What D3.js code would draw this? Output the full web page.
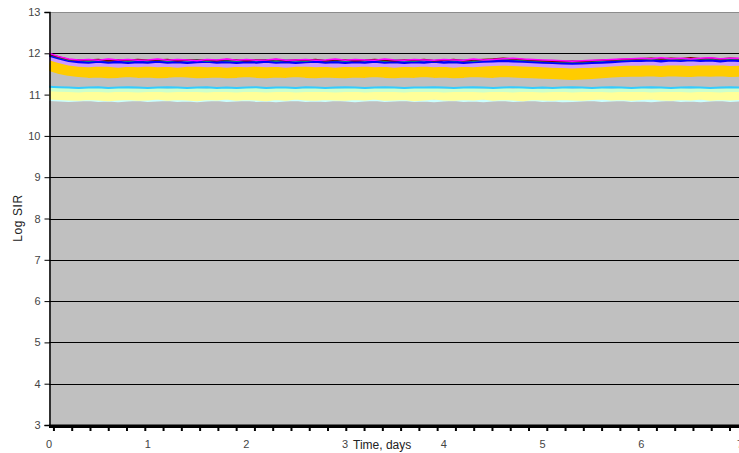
<!DOCTYPE html>
<html>
<head>
<meta charset="utf-8">
<script src="https://cdn.jsdelivr.net/npm/d3@7"></script>
<style>
  html, body { margin: 0; padding: 0; background: #fff; }
  svg { display: block; font-family: "Liberation Sans", Arial, sans-serif; }
</style>
</head>
<body>
<svg id="chart" width="739" height="453"></svg>
<script>
// time points, days
var times = [0,0.1,0.2,0.3,0.4,0.5,0.6,0.7,0.8,0.9,
  1.0,1.1,1.2,1.3,1.4,1.5,1.6,1.7,1.8,1.9,
  2.0,2.1,2.2,2.3,2.4,2.5,2.6,2.7,2.8,2.9,
  3.0,3.1,3.2,3.3,3.4,3.5,3.6,3.7,3.8,3.9,
  4.0,4.1,4.2,4.3,4.4,4.5,4.6,4.7,4.8,4.9,
  5.0,5.1,5.2,5.3,5.4,5.5,5.6,5.7,5.8,5.9,
  6.0,6.1,6.2,6.3,6.4,6.5,6.6,6.7,6.8,6.9,7.0];

var xTickLabels = [0,1,2,3,4,5,6,7];
var yTickLabels = [3,4,5,6,7,8,9,10,11,12,13];

// log SIR per series
var paleCyanSeries = [10.88,10.87,10.86,10.87,10.88,10.86,10.87,10.85,10.87,10.88,
  10.86,10.87,10.88,10.86,10.87,10.85,10.87,10.88,10.86,10.87,
  10.88,10.86,10.87,10.85,10.87,10.88,10.86,10.87,10.86,10.88,
  10.87,10.85,10.87,10.88,10.86,10.87,10.88,10.86,10.87,10.85,
  10.87,10.88,10.86,10.87,10.85,10.87,10.88,10.86,10.87,10.88,
  10.86,10.87,10.85,10.86,10.87,10.88,10.86,10.87,10.88,10.86,
  10.87,10.85,10.87,10.88,10.86,10.87,10.85,10.87,10.88,10.86,10.87];

var yellowSeries = [11.00,10.99,10.98,10.97,10.99,10.98,10.96,10.98,10.99,10.97,
  10.98,11.00,10.97,10.99,10.98,10.96,10.99,10.98,11.00,10.97,
  10.99,10.98,10.96,10.99,10.97,11.00,10.98,10.97,10.99,10.98,
  10.97,10.99,10.98,11.00,10.97,10.98,10.99,10.96,10.98,11.00,
  10.98,10.97,10.99,10.98,11.00,10.97,10.99,10.98,10.96,10.99,
  10.98,10.97,10.99,10.98,10.97,10.99,11.00,10.98,10.99,10.97,
  10.99,11.00,10.98,10.97,10.99,10.98,11.00,10.97,10.99,10.98,10.99];

var lightGreenSeries = [11.13,11.12,11.11,11.10,11.12,11.11,11.10,11.12,11.11,11.10,
  11.11,11.12,11.10,11.11,11.12,11.11,11.10,11.12,11.11,11.10,
  11.12,11.11,11.10,11.11,11.12,11.10,11.11,11.12,11.11,11.10,
  11.11,11.12,11.10,11.11,11.12,11.11,11.10,11.12,11.11,11.12,
  11.10,11.11,11.12,11.11,11.10,11.12,11.11,11.10,11.12,11.11,
  11.10,11.11,11.12,11.10,11.11,11.12,11.11,11.10,11.12,11.11,
  11.12,11.10,11.11,11.12,11.11,11.10,11.12,11.11,11.10,11.12,11.11];

var cyanSeries = [11.19,11.18,11.17,11.16,11.17,11.18,11.16,11.17,11.18,11.17,
  11.16,11.17,11.18,11.17,11.16,11.17,11.18,11.16,11.17,11.16,
  11.17,11.18,11.16,11.17,11.17,11.16,11.18,11.17,11.16,11.17,
  11.18,11.17,11.16,11.17,11.18,11.17,11.16,11.17,11.17,11.18,
  11.17,11.16,11.17,11.18,11.17,11.16,11.17,11.18,11.17,11.16,
  11.17,11.16,11.17,11.18,11.17,11.16,11.17,11.18,11.17,11.16,
  11.17,11.18,11.17,11.16,11.17,11.18,11.17,11.16,11.17,11.18,11.17];

var orangeSeries = [11.72,11.65,11.60,11.57,11.55,11.56,11.54,11.55,11.57,11.55,
  11.56,11.54,11.55,11.57,11.56,11.54,11.55,11.56,11.54,11.55,
  11.57,11.55,11.54,11.56,11.55,11.57,11.55,11.54,11.56,11.55,
  11.54,11.56,11.55,11.57,11.55,11.54,11.56,11.55,11.57,11.55,
  11.56,11.54,11.55,11.57,11.56,11.55,11.57,11.56,11.55,11.54,
  11.53,11.52,11.51,11.50,11.51,11.52,11.54,11.56,11.57,11.58,
  11.58,11.59,11.57,11.59,11.58,11.57,11.59,11.58,11.59,11.57,11.58];

var lavenderSeries = [11.88,11.81,11.75,11.72,11.71,11.73,11.72,11.70,11.72,11.71,
  11.73,11.71,11.72,11.70,11.72,11.73,11.71,11.72,11.70,11.72,
  11.71,11.73,11.71,11.72,11.70,11.72,11.73,11.71,11.72,11.70,
  11.72,11.71,11.73,11.71,11.72,11.70,11.72,11.71,11.73,11.71,
  11.72,11.70,11.72,11.71,11.73,11.74,11.75,11.74,11.73,11.72,
  11.71,11.70,11.69,11.68,11.69,11.70,11.71,11.73,11.74,11.75,
  11.75,11.76,11.74,11.76,11.75,11.74,11.76,11.75,11.76,11.74,11.75];

var blueSeries = [11.95,11.88,11.82,11.79,11.78,11.80,11.78,11.79,11.77,11.79,
  11.78,11.80,11.78,11.79,11.77,11.79,11.80,11.78,11.79,11.77,
  11.79,11.78,11.80,11.78,11.79,11.77,11.79,11.80,11.78,11.79,
  11.77,11.79,11.78,11.80,11.78,11.79,11.77,11.79,11.78,11.80,
  11.78,11.79,11.77,11.79,11.80,11.81,11.82,11.81,11.80,11.79,
  11.78,11.77,11.76,11.75,11.76,11.77,11.78,11.79,11.81,11.82,
  11.82,11.83,11.81,11.83,11.82,11.84,11.82,11.83,11.81,11.83,11.82];

var tealSeries = [11.98,11.90,11.84,11.83,11.81,11.83,11.82,11.84,11.81,11.83,
  11.82,11.84,11.81,11.83,11.82,11.84,11.81,11.83,11.82,11.81,
  11.83,11.82,11.84,11.81,11.83,11.82,11.81,11.84,11.82,11.83,
  11.81,11.83,11.82,11.84,11.81,11.83,11.82,11.81,11.83,11.82,
  11.84,11.82,11.83,11.81,11.83,11.85,11.86,11.85,11.83,11.82,
  11.81,11.80,11.79,11.80,11.79,11.81,11.82,11.83,11.84,11.85,
  11.86,11.85,11.87,11.86,11.85,11.87,11.86,11.87,11.85,11.86,11.87];

var darkRedSeries = [11.98,11.91,11.85,11.83,11.84,11.85,11.82,11.84,11.83,11.85,
  11.83,11.84,11.85,11.82,11.84,11.83,11.84,11.82,11.85,11.84,
  11.82,11.84,11.83,11.85,11.82,11.84,11.83,11.85,11.82,11.84,
  11.84,11.82,11.83,11.85,11.83,11.82,11.84,11.83,11.85,11.82,
  11.83,11.85,11.82,11.84,11.85,11.86,11.88,11.86,11.85,11.83,
  11.82,11.81,11.80,11.81,11.80,11.82,11.83,11.84,11.85,11.86,
  11.87,11.88,11.86,11.88,11.87,11.89,11.87,11.88,11.86,11.88,11.87];

var magentaSeries = [12.00,11.92,11.86,11.84,11.85,11.83,11.86,11.84,11.85,11.83,
  11.84,11.86,11.83,11.85,11.84,11.82,11.85,11.84,11.86,11.83,
  11.85,11.83,11.84,11.86,11.83,11.84,11.85,11.83,11.84,11.86,
  11.83,11.85,11.84,11.83,11.86,11.84,11.83,11.85,11.84,11.83,
  11.85,11.84,11.83,11.86,11.84,11.85,11.87,11.88,11.86,11.85,
  11.84,11.83,11.82,11.81,11.82,11.83,11.84,11.85,11.86,11.87,
  11.88,11.87,11.89,11.87,11.88,11.86,11.88,11.89,11.87,11.88,11.88];

var seriesList = [
  {values: paleCyanSeries, color: '#CCFFFF', width: 3},
  {values: yellowSeries, color: '#FFFF99', width: 10},
  {values: lightGreenSeries, color: '#CCFFCC', width: 4},
  {values: cyanSeries, color: '#33CCFF', width: 2},
  {values: orangeSeries, color: '#FFCC00', width: 12},
  {values: lavenderSeries, color: '#CC99FF', width: 4},
  {values: blueSeries, color: '#0000FF', width: 2.5},
  {values: tealSeries, color: '#008080', width: 1.5},
  {values: darkRedSeries, color: '#800000', width: 1.5},
  {values: magentaSeries, color: '#FF00FF', width: 1.5}
];

(function() {
  var svg = d3.select('#chart')
    , plotLeft = 49, plotTop = 12, plotBottom = 425, plotRight = 740, W = 739;

  var x = d3.scaleLinear().domain([0, 7]).range([plotLeft, plotRight]);
  var y = d3.scaleLinear().domain([3, 13]).range([plotBottom, plotTop]);

  svg.append('clipPath').attr('id', 'plotClip')
    .append('rect').attr('x', plotLeft).attr('y', plotTop)
    .attr('width', W - plotLeft).attr('height', plotBottom - plotTop);

  // plot background
  svg.append('rect')
    .attr('x', plotLeft).attr('y', plotTop)
    .attr('width', W - plotLeft).attr('height', plotBottom - plotTop)
    .attr('fill', '#C0C0C0');

  svg.append('line')
    .attr('x1', plotLeft).attr('x2', W).attr('y1', plotTop + 0.5).attr('y2', plotTop + 0.5)
    .attr('stroke', '#8c8c8c');

  // horizontal gridlines
  svg.append('g').selectAll('line')
    .data(yTickLabels.filter(function(d) { return d > 3 && d < 13; }))
    .enter().append('line')
      .attr('x1', plotLeft).attr('x2', W)
      .attr('y1', function(d) { return Math.round(y(d)) + 0.5; })
      .attr('y2', function(d) { return Math.round(y(d)) + 0.5; })
      .attr('stroke', '#000').attr('stroke-width', 1);

  // series
  var line = d3.line()
    .x(function(d, i) { return x(times[i]); })
    .y(function(d) { return y(d); });

  svg.append('g').attr('clip-path', 'url(#plotClip)')
    .selectAll('path')
    .data(seriesList)
    .enter().append('path')
      .attr('d', function(s) { return line(s.values); })
      .attr('fill', 'none')
      .attr('stroke', function(s) { return s.color; })
      .attr('stroke-width', function(s) { return s.width; })
      .attr('stroke-linejoin', 'round');

  // y axis
  var yAxis = svg.append('g')
    .attr('transform', 'translate(' + (plotLeft + 0.5) + ',0)')
    .call(d3.axisLeft(y).tickValues(yTickLabels).tickSize(5).tickPadding(4).tickFormat(d3.format('d')));
  yAxis.select('.domain').attr('stroke', '#000').attr('stroke-width', 1.5);
  yAxis.selectAll('.tick line').attr('stroke', '#000');
  yAxis.selectAll('.tick text')
    .attr('fill', '#444').style('font-size', '11px')
    .style('font-family', '"Liberation Sans", Arial, sans-serif');

  // bottom axis: heavy baseline with small ticks
  svg.append('rect')
    .attr('x', plotLeft).attr('y', plotBottom - 0.5)
    .attr('width', W - plotLeft).attr('height', 3.5)
    .attr('fill', '#000');

  var minorTicks = d3.range(0.05, 7.0, 0.1851);
  svg.append('g').selectAll('line')
    .data(minorTicks)
    .enter().append('line')
      .attr('x1', function(d) { return x(d); }).attr('x2', function(d) { return x(d); })
      .attr('y1', plotBottom + 3).attr('y2', plotBottom + 6)
      .attr('stroke', '#000').attr('stroke-width', 2);

  svg.append('g').selectAll('text')
    .data(xTickLabels)
    .enter().append('text')
      .attr('x', function(d) { return x(d); })
      .attr('y', 448)
      .attr('text-anchor', 'middle')
      .attr('fill', '#444')
      .style('font-size', '11px')
      .text(function(d) { return d; });

  // axis titles
  svg.append('text')
    .attr('x', 353).attr('y', 449)
    .attr('fill', '#222')
    .style('font-size', '12px')
    .text('Time, days');

  svg.append('text')
    .attr('transform', 'translate(22,218)rotate(-90)')
    .attr('text-anchor', 'middle')
    .attr('fill', '#222')
    .style('font-size', '12px')
    .style('letter-spacing', '0.6px')
    .text('Log SIR');
})();
</script>
</body>
</html>
